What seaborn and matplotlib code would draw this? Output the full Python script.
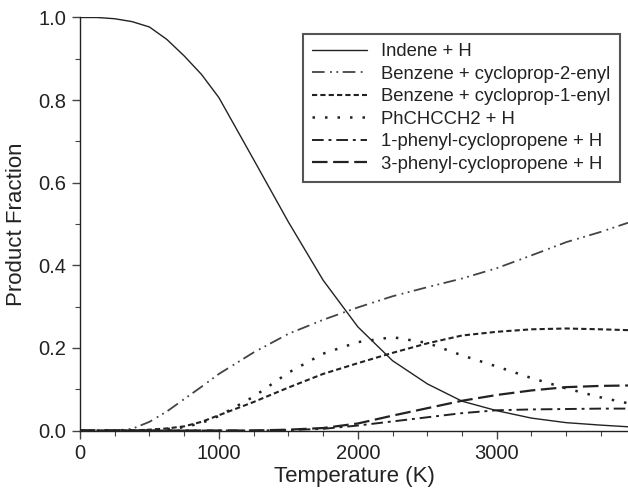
import matplotlib
matplotlib.use("Agg")
import matplotlib.pyplot as plt
import seaborn as sns
import pandas as pd
from matplotlib.ticker import MultipleLocator, FormatStrFormatter

temperature = [0, 125, 250, 375, 500, 625, 750, 875, 1000, 1250, 1500, 1750, 2000,
               2250, 2500, 2750, 3000, 3250, 3500, 3750, 3945]
indene_h = [1.0, 1.0, 0.997, 0.99, 0.977, 0.947, 0.907, 0.862, 0.806, 0.656, 0.505,
            0.364, 0.251, 0.169, 0.113, 0.071, 0.048, 0.030, 0.019, 0.013, 0.009]
benzene_c2 = [0.0, 0.0, 0.0, 0.004, 0.021, 0.046, 0.076, 0.106, 0.137, 0.189, 0.234,
              0.268, 0.298, 0.325, 0.347, 0.368, 0.393, 0.424, 0.456, 0.481, 0.503]
benzene_c1 = [0.0, 0.0, 0.0, 0.0, 0.002, 0.005, 0.010, 0.021, 0.037, 0.069, 0.104,
              0.137, 0.163, 0.188, 0.211, 0.230, 0.239, 0.245, 0.247, 0.245, 0.243]
phchcch2 = [0.0, 0.0, 0.0, 0.0, 0.001, 0.003, 0.008, 0.018, 0.035, 0.082, 0.140,
            0.186, 0.214, 0.226, 0.212, 0.182, 0.155, 0.127, 0.102, 0.080, 0.066]
phenyl1 = [0.0, 0.0, 0.0, 0.0, 0.0, 0.0, 0.0, 0.0, 0.0, 0.0, 0.001, 0.004, 0.012,
           0.022, 0.032, 0.042, 0.049, 0.051, 0.052, 0.053, 0.053]
phenyl3 = [0.0, 0.0, 0.0, 0.0, 0.0, 0.0, 0.0, 0.0, 0.0, 0.0, 0.002, 0.006, 0.017,
           0.036, 0.054, 0.072, 0.086, 0.097, 0.105, 0.108, 0.109]

labels = ["Indene + H", "Benzene + cycloprop-2-enyl", "Benzene + cycloprop-1-enyl",
          "PhCHCCH2 + H", "1-phenyl-cyclopropene + H", "3-phenyl-cyclopropene + H"]
series = [indene_h, benzene_c2, benzene_c1, phchcch2, phenyl1, phenyl3]

styles = [
    dict(color="#222222", lw=1.0, ls="-"),
    dict(color="#444444", lw=1.3, ls=(0, (7, 3, 1, 2.5, 1, 2.5))),
    dict(color="#222222", lw=1.5, ls=(0, (2.5, 1.5))),
    dict(color="#222222", lw=1.8, ls=(0, (1, 4))),
    dict(color="#222222", lw=1.4, ls=(0, (6, 2.5, 1.5, 2.5))),
    dict(color="#222222", lw=1.6, ls=(0, (7, 2.5))),
]

sns.set_theme(style="ticks")
plt.rcParams["font.family"] = ["Liberation Sans", "DejaVu Sans"]

fig = plt.figure(figsize=(6.28, 4.95), dpi=100)
ax = fig.add_axes([80 / 628, (495 - 430.5) / 495, 548 / 628, 413 / 495])

for lab, vals, st in zip(labels, series, styles):
    df = pd.DataFrame({"T": temperature, "f": vals})
    sns.lineplot(data=df, x="T", y="f", ax=ax, label=lab, color=st["color"],
                 linewidth=st["lw"], linestyle=st["ls"])

ax.set_xlim(0, 3945)
ax.set_ylim(0, 1.0)
ax.xaxis.set_major_locator(MultipleLocator(1000))
ax.xaxis.set_minor_locator(MultipleLocator(250))
ax.yaxis.set_major_locator(MultipleLocator(0.2))
ax.yaxis.set_minor_locator(MultipleLocator(0.1))
ax.yaxis.set_major_formatter(FormatStrFormatter("%.1f"))

for s in ["top", "right"]:
    ax.spines[s].set_visible(False)
for s in ["left", "bottom"]:
    ax.spines[s].set_color("#222222")
    ax.spines[s].set_linewidth(1.0)

ax.tick_params(axis="both", which="major", direction="out", length=6, width=1,
               color="#444444", labelsize=14.5, labelcolor="#222222", pad=4)
ax.tick_params(axis="both", which="minor", direction="out", length=3.5, width=0.8,
               color="#444444")

ax.set_xlabel("Temperature (K)", fontsize=16, color="#222222", labelpad=2)
ax.set_ylabel("Product Fraction", fontsize=16, color="#222222", labelpad=8)

leg = ax.legend(loc="upper right", bbox_to_anchor=(0.985, 0.96), borderaxespad=0,
                fontsize=13.3, frameon=True, fancybox=False, handlelength=3.0,
                handletextpad=0.75, labelspacing=0.3, borderpad=0.5)
leg.get_frame().set_edgecolor("#555555")
leg.get_frame().set_linewidth(1.5)
leg.get_frame().set_facecolor("white")
leg.get_frame().set_alpha(1)
for t in leg.get_texts():
    t.set_color("#222222")

fig.savefig("out.png", dpi=100)
